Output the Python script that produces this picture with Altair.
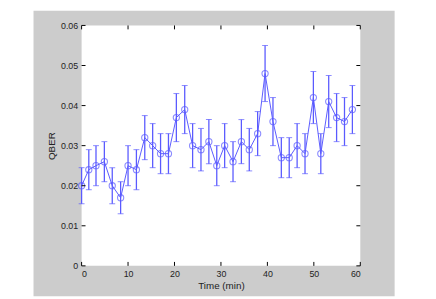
import altair as alt
import pandas as pd

times = [0.0, 1.55, 3.1, 4.9, 6.6, 8.4, 10.0, 11.8, 13.6, 15.3, 17.0, 18.7, 20.4, 22.2,
         23.9, 25.7, 27.4, 29.1, 30.8, 32.6, 34.4, 36.1, 37.9, 39.5, 41.2, 43.0, 44.7,
         46.4, 48.1, 49.9, 51.5, 53.2, 54.9, 56.6, 58.3]
qber = [0.020, 0.024, 0.025, 0.026, 0.020, 0.017, 0.025, 0.024, 0.032, 0.030, 0.028, 0.028,
        0.037, 0.039, 0.030, 0.029, 0.031, 0.025, 0.030, 0.026, 0.031, 0.029, 0.033, 0.048,
        0.036, 0.027, 0.027, 0.030, 0.028, 0.042, 0.028, 0.041, 0.037, 0.036, 0.039]
err_lo = [0.0155, 0.019, 0.020, 0.021, 0.0155, 0.013, 0.020, 0.019, 0.0265, 0.0245, 0.023, 0.023,
          0.031, 0.033, 0.0245, 0.0237, 0.0255, 0.020, 0.0245, 0.021, 0.0255, 0.0237, 0.0275, 0.041,
          0.030, 0.022, 0.022, 0.0245, 0.023, 0.0355, 0.023, 0.0345, 0.031, 0.030, 0.033]
err_hi = [0.0245, 0.029, 0.030, 0.031, 0.0245, 0.021, 0.030, 0.029, 0.0375, 0.0355, 0.033, 0.033,
          0.043, 0.045, 0.0355, 0.0343, 0.0365, 0.030, 0.0355, 0.031, 0.0365, 0.0343, 0.0385, 0.055,
          0.042, 0.032, 0.032, 0.0355, 0.033, 0.0485, 0.033, 0.0475, 0.043, 0.042, 0.045]

x_ticks = [0, 10, 20, 30, 40, 50, 60]
y_ticks = [0, 0.01, 0.02, 0.03, 0.04, 0.05, 0.06]

W, H = 284, 245
BLUE = "#5a5aff"

df = pd.DataFrame({"t": times, "q": qber, "lo": err_lo, "hi": err_hi})
xt = pd.DataFrame({"v": x_ticks})
yt = pd.DataFrame({"v": y_ticks})
one = pd.DataFrame({"a": [0]})

xs = alt.Scale(domain=[0, 60], nice=False)
ys = alt.Scale(domain=[0, 0.06], nice=False)

bg = alt.Chart(one).mark_rect(color="#cccccc").encode(
    x=alt.value(-49), x2=alt.value(319), y=alt.value(-15), y2=alt.value(276))
plotbg = alt.Chart(one).mark_rect(color="white").encode(
    x=alt.value(0), x2=alt.value(W), y=alt.value(0), y2=alt.value(H))

base = alt.Chart(df)
xenc = alt.X("t:Q", scale=xs, axis=alt.Axis(values=x_ticks, title="Time (min)", grid=False,
                                               tickSize=0, labelPadding=4, titlePadding=2, zindex=1))
yenc = alt.Y("q:Q", scale=ys, axis=alt.Axis(values=y_ticks, title="QBER", grid=False, tickSize=0,
                                               labelPadding=4, titlePadding=4, zindex=1,
                                               labelExpr="datum.value == 0 ? '0' : format(datum.value, '.2f')"))

line = base.mark_line(color=BLUE, strokeWidth=1).encode(x=xenc, y=yenc)
bars = base.mark_rule(color=BLUE, strokeWidth=1.3).encode(x="t:Q", y="lo:Q", y2="hi:Q")
cap_lo = base.mark_tick(color=BLUE, orient="horizontal", size=6, thickness=1).encode(x="t:Q", y="lo:Q")
cap_hi = base.mark_tick(color=BLUE, orient="horizontal", size=6, thickness=1).encode(x="t:Q", y="hi:Q")
pts = base.mark_point(shape="circle", color=BLUE, size=40, strokeWidth=1.1, filled=False).encode(x="t:Q", y="q:Q")

xt_b = alt.Chart(xt).mark_rule(color="black").encode(x=alt.X("v:Q", scale=xs), y=alt.value(H), y2=alt.value(H - 4))
xt_t = alt.Chart(xt).mark_rule(color="black").encode(x=alt.X("v:Q", scale=xs), y=alt.value(0), y2=alt.value(4))
yt_l = alt.Chart(yt).mark_rule(color="black").encode(y=alt.Y("v:Q", scale=ys), x=alt.value(0), x2=alt.value(4))
yt_r = alt.Chart(yt).mark_rule(color="black").encode(y=alt.Y("v:Q", scale=ys), x=alt.value(W), x2=alt.value(W - 4))

chart = alt.layer(bg, plotbg, line, bars, cap_lo, cap_hi, pts, xt_b, xt_t, yt_l, yt_r).properties(
    width=W, height=H,
    autosize=alt.AutoSizeParams(type="none"),
    padding={"left": 75, "top": 15, "right": 69, "bottom": 31},
    background="white",
).configure_view(stroke="black", strokeWidth=1, fill=None).configure_axis(
    domain=False, labelFont="Liberation Sans", titleFont="Liberation Sans",
    labelFontSize=9, titleFontSize=10, labelColor="#222", titleColor="#222",
    titleFontWeight="normal",
)

chart.save("out.html", embed_options={"renderer": "svg", "actions": False})
